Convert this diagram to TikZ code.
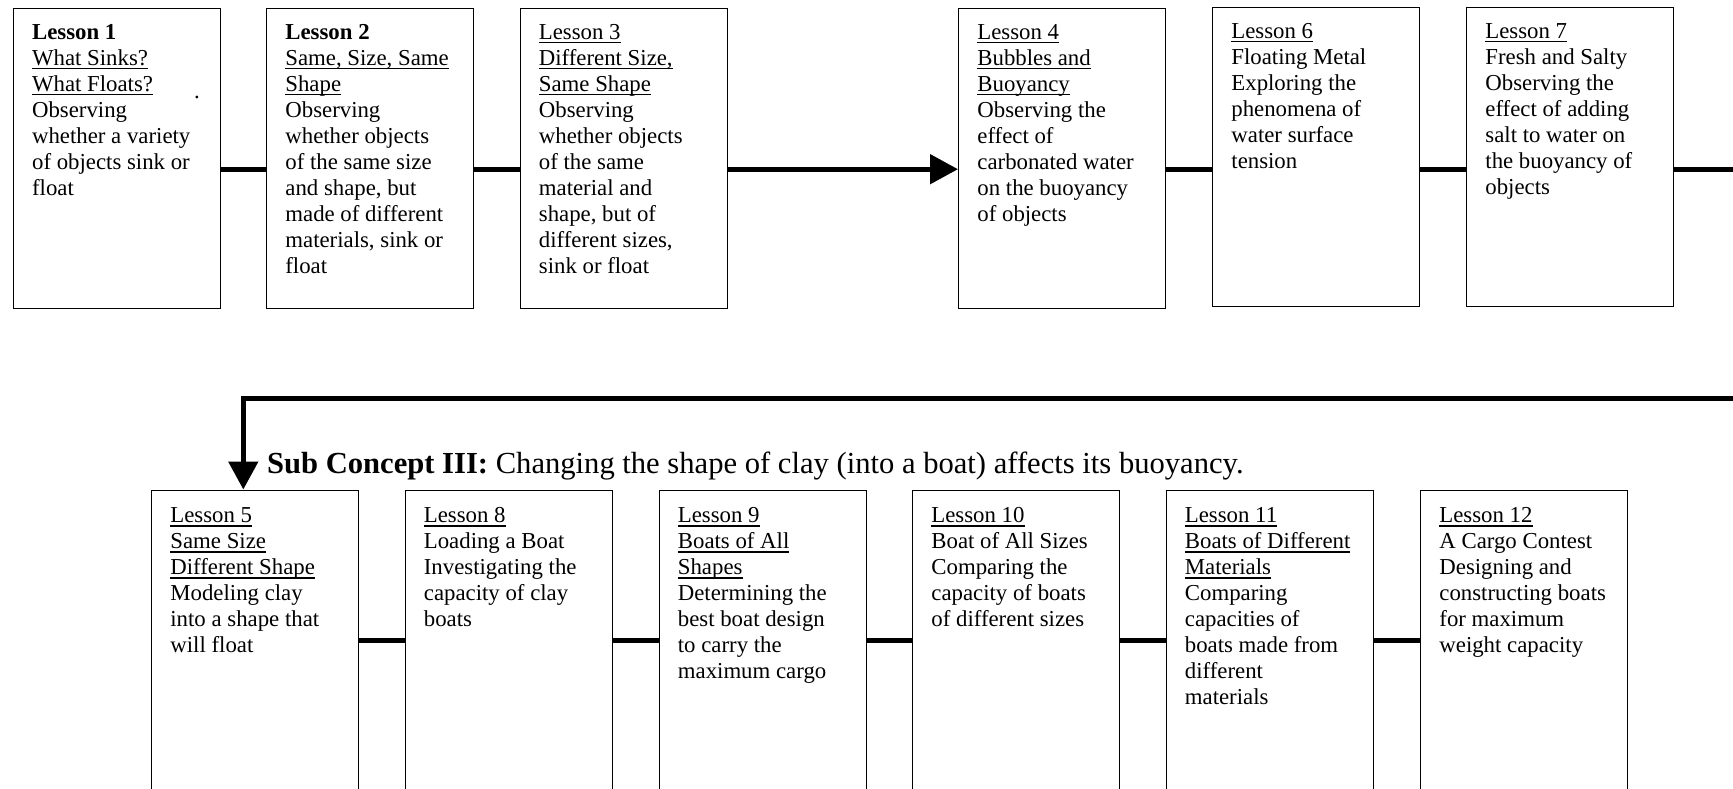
\documentclass[tikz,border=0pt]{standalone}
\usepackage{fontspec}
\setmainfont{Liberation Serif}
\usetikzlibrary{arrows.meta}
\newlength\ulwd
\newcommand\ulx[1]{\leavevmode\settowidth{\ulwd}{#1}\rlap{\rule[-2pt]{\ulwd}{0.7pt}}#1}
\newcommand\lessontext[1]{\parbox[t]{96pt}{\raggedright\fontsize{11.4}{13}\selectfont #1}}
\begin{document}
\begin{tikzpicture}[x=0.5pt,y=-0.5pt,
  lbox/.style={draw, line width=0.7pt, minimum width=103.5pt, minimum height=150pt, inner sep=0pt, anchor=north west},
  tbox/.style={lbox, minimum height=149.5pt},
  ltext/.style={anchor=base west, inner sep=0pt, xshift=9.5pt, yshift=-15.75pt},
  btext/.style={anchor=base west, inner sep=0pt, xshift=9.5pt, yshift=-16.5pt},
  conn/.style={line width=2.5pt},
  tip/.style={-{Triangle[length=14pt,width=14.5pt]}}]
\useasboundingbox (0,0) rectangle (1733,788);

% top row
\node[lbox] (b1) at (12.7,7.5) {};
\node[ltext] (t1) at (b1.north west) {\lessontext{\textbf{Lesson 1}\\ \ulx{What Sinks?}\\ \ulx{What Floats?}\\ Observing\\ whether a variety\\ of objects sink or\\ float}};
\node[anchor=base, inner sep=0pt, font=\fontsize{11.4}{13}\selectfont] (dot) at (197,98) {.};

\node[lbox] (b2) at (266,7.5) {};
\node[ltext] (t2) at (b2.north west) {\lessontext{\textbf{Lesson 2}\\ \ulx{Same, Size, Same}\\ \ulx{Shape}\\ Observing\\ whether objects\\ of the same size\\ and shape, but\\ made of different\\ materials, sink or\\ float}};

\node[lbox] (b3) at (519.5,7.5) {};
\node[ltext] (t3) at (b3.north west) {\lessontext{\ulx{Lesson 3}\\ \ulx{Different Size,}\\ \ulx{Same Shape}\\ Observing\\ whether objects\\ of the same\\ material and\\ shape, but of\\ different sizes,\\ sink or float}};

\node[lbox] (b4) at (958,7.5) {};
\node[ltext] (t4) at (b4.north west) {\lessontext{\ulx{Lesson 4}\\ \ulx{Bubbles and}\\ \ulx{Buoyancy}\\ Observing the\\ effect of\\ carbonated water\\ on the buoyancy\\ of objects}};

\node[tbox] (b6) at (1212,6.6) {};
\node[ltext] (t6) at (b6.north west) {\lessontext{\ulx{Lesson 6}\\ Floating Metal\\ Exploring the\\ phenomena of\\ water surface\\ tension}};

\node[tbox] (b7) at (1466,6.6) {};
\node[ltext] (t7) at (b7.north west) {\lessontext{\ulx{Lesson 7}\\ Fresh and Salty\\ Observing the\\ effect of adding\\ salt to water on\\ the buoyancy of\\ objects}};

% bottom row
\node[lbox] (b5) at (151,489.5) {};
\node[btext] (t5) at (b5.north west) {\lessontext{\ulx{Lesson 5}\\ \ulx{Same Size}\\ \ulx{Different Shape}\\ Modeling clay\\ into a shape that\\ will float}};

\node[lbox] (b8) at (404.5,489.5) {};
\node[btext] (t8) at (b8.north west) {\lessontext{\ulx{Lesson 8}\\ Loading a Boat\\ Investigating the\\ capacity of clay\\ boats}};

\node[lbox] (b9) at (658.5,489.5) {};
\node[btext] (t9) at (b9.north west) {\lessontext{\ulx{Lesson 9}\\ \ulx{Boats of All}\\ \ulx{Shapes}\\ Determining the\\ best boat design\\ to carry the\\ maximum cargo}};

\node[lbox] (b10) at (912,489.5) {};
\node[btext] (t10) at (b10.north west) {\lessontext{\ulx{Lesson 10}\\ Boat of All Sizes\\ Comparing the\\ capacity of boats\\ of different sizes}};

\node[lbox] (b11) at (1165.5,489.5) {};
\node[btext] (t11) at (b11.north west) {\lessontext{\ulx{Lesson 11}\\ \ulx{Boats of Different}\\ \ulx{Materials}\\ Comparing\\ capacities of\\ boats made from\\ different\\ materials}};

\node[lbox] (b12) at (1420,489.5) {};
\node[btext] (t12) at (b12.north west) {\lessontext{\ulx{Lesson 12}\\ A Cargo Contest\\ Designing and\\ constructing boats\\ for maximum\\ weight capacity}};

% heading
\node[anchor=base west, inner sep=0pt, font=\fontsize{15.3}{18}\selectfont] (sc) at (266.7,473) {\textbf{Sub Concept III:} Changing the shape of clay (into a boat) affects its buoyancy.};

% connectors top row
\draw[conn] ([yshift=-5.5pt]b1.east) -- ([yshift=-5.5pt]b1.east -| b2.west);
\draw[conn] ([yshift=-5.5pt]b2.east) -- ([yshift=-5.5pt]b2.east -| b3.west);
\draw[conn,tip] ([yshift=-5.5pt]b3.east) -- ([yshift=-5.5pt]b3.east -| b4.west);
\draw[conn] ([yshift=-5.5pt]b4.east) -- ([yshift=-5.5pt]b4.east -| b6.west);
\draw[conn] ([yshift=-5.5pt]b4.east -| b6.east) -- ([yshift=-5.5pt]b4.east -| b7.west);

% loop to bottom row
\coordinate (r1) at (1745,398.5);
\coordinate (r2) at (243.3,398.5);
\draw[conn,tip,line join=miter] ([yshift=-5.5pt]b4.east -| b7.east) -| (r1) -- (r2) -- (r2 |- b5.north);

% connectors bottom row
\draw[conn] (b5.east) -- (b8.west);
\draw[conn] (b8.east) -- (b9.west);
\draw[conn] (b9.east) -- (b10.west);
\draw[conn] (b10.east) -- (b11.west);
\draw[conn] (b11.east) -- (b12.west);
\end{tikzpicture}
\end{document}
